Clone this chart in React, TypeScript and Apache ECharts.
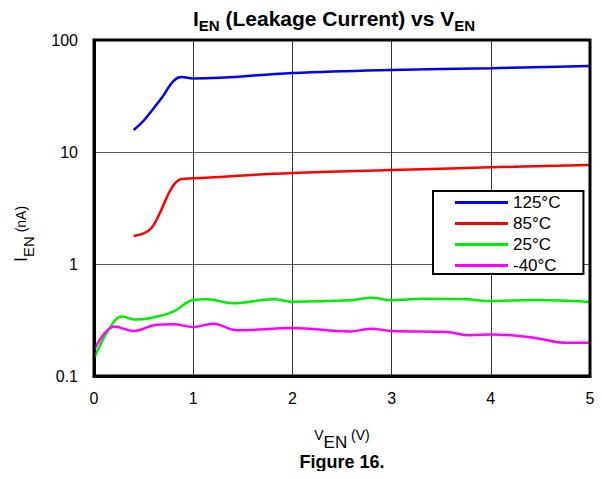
import React, { useEffect, useRef } from "react";
import * as echarts from "echarts";

const blueX = [0.4, 0.5, 0.6, 0.7, 0.8, 0.88, 1, 2, 3, 4, 5];
const blueY = [15.7, 19, 24.5, 32, 43, 46.7, 45.3, 50.7, 54, 56, 58.6];
const redX = [0.4, 0.5, 0.58, 0.665, 0.72, 0.766, 0.82, 0.88, 1, 2, 3, 4, 5];
const redY = [1.78, 1.88, 2.1, 2.87, 3.7, 4.49, 5.3, 5.75, 5.82, 6.5, 6.9, 7.3, 7.66];
const greenX = [0, 0.16, 0.28, 0.41, 0.56, 0.8, 1, 1.14, 1.4, 1.81, 2, 2.58, 2.8, 3, 3.32, 3.76, 4, 4.43, 5];
const greenY = [0.144, 0.27, 0.339, 0.32, 0.328, 0.375, 0.477, 0.484, 0.446, 0.484, 0.46, 0.474, 0.5, 0.474, 0.49, 0.484, 0.467, 0.477, 0.458];
const magX = [0, 0.21, 0.4, 0.63, 0.8, 1, 1.2, 1.44, 2, 2.58, 2.8, 3, 3.55, 3.79, 4, 4.43, 4.76, 5];
const magY = [0.17, 0.276, 0.252, 0.287, 0.29, 0.274, 0.293, 0.256, 0.268, 0.25, 0.264, 0.252, 0.247, 0.231, 0.235, 0.22, 0.198, 0.198];
const seriesNames = ["125°C", "85°C", "25°C", "-40°C"];
const seriesColors = ["#0000ff", "#ff0000", "#00ee00", "#ff00ff"];

const zip = (xs: number[], ys: number[]) => xs.map((x, i) => [x, ys[i]]);

const FONT = "'Liberation Sans', Arial, sans-serif";

export default function App() {
  const ref = useRef<HTMLDivElement>(null);
  useEffect(() => {
    if (!ref.current) return;
    const chart = echarts.init(ref.current, null, { renderer: "svg" });
    const data = [zip(blueX, blueY), zip(redX, redY), zip(greenX, greenY), zip(magX, magY)];
    chart.setOption({
      animation: false,
      backgroundColor: "#ffffff",
      textStyle: { fontFamily: FONT },
      title: {
        text: "{b|I}{s|EN}{b| (Leakage Current) vs V}{s|EN}",
        left: 329,
        textAlign: "center",
        top: 3,
        textStyle: {
          rich: {
            b: { fontFamily: FONT, fontWeight: "bold", fontSize: 21, color: "#000", lineHeight: 26, verticalAlign: "top" },
            s: { fontFamily: FONT, fontWeight: "bold", fontSize: 15, color: "#000", lineHeight: 26, padding: [10, 0, 0, 0], verticalAlign: "top" },
          },
        },
      },
      grid: { left: 94, right: 12, top: 40, bottom: 103, containLabel: false },
      legend: {
        show: true,
        orient: "vertical",
        left: 433,
        top: 191,
        padding: [3, 23, 0, 22],
        borderColor: "#000",
        borderWidth: 2,
        backgroundColor: "#fff",
        icon: "rect",
        itemWidth: 53,
        itemHeight: 3,
        itemGap: 4,
        data: seriesNames,
        textStyle: { fontFamily: FONT, fontSize: 17, color: "#000", lineHeight: 15 },
      },
      xAxis: {
        type: "value",
        min: 0,
        max: 5,
        interval: 1,
        name: "{v|V}{e|EN}{v| (V)}",
        nameLocation: "middle",
        nameGap: 52,
        nameTextStyle: {
          rich: {
            v: { fontFamily: FONT, fontSize: 14, color: "#000", lineHeight: 14, verticalAlign: "top" },
            e: { fontFamily: FONT, fontSize: 17, color: "#000", lineHeight: 14, padding: [6, 0, 0, 0], verticalAlign: "top" },
          },
        },
        axisLine: { show: true, onZero: false, lineStyle: { color: "#000", width: 3 } },
        axisTick: { show: false },
        axisLabel: { fontFamily: FONT, fontSize: 16, color: "#000", margin: 14 },
        splitLine: { show: true, lineStyle: { color: "#333", width: 1 } },
      },
      yAxis: {
        type: "log",
        logBase: 10,
        min: 0.1,
        max: 100,
        axisLine: { show: true, lineStyle: { color: "#000", width: 3 } },
        axisTick: { show: false },
        minorTick: { show: false },
        axisLabel: { fontFamily: FONT, fontSize: 16, color: "#000", margin: 16, formatter: (v: number) => String(v) },
        splitLine: { show: true, lineStyle: { color: "#555", width: 1 } },
      },
      graphic: [
        {
          type: "rect",
          shape: { x: 94, y: 40, width: 496, height: 336 },
          style: { fill: "none", stroke: "#000", lineWidth: 3 },
          silent: true,
          z: 10,
        },
        {
          type: "text",
          x: 24,
          y: 234,
          rotation: Math.PI / 2,
          style: {
            text: "{v|I}{e|EN}{s| (nA)}",
            textAlign: "center",
            textVerticalAlign: "middle",
            rich: {
              v: { fontFamily: FONT, fontSize: 18, fill: "#000", lineHeight: 24, verticalAlign: "top" },
              e: { fontFamily: FONT, fontSize: 15, fill: "#000", lineHeight: 24, padding: [9, 0, 0, 0], verticalAlign: "top" },
              s: { fontFamily: FONT, fontSize: 14, fill: "#000", lineHeight: 24, padding: [2, 0, 0, 0], verticalAlign: "top" },
            },
          },
        },
        {
          type: "text",
          x: 342,
          y: 462,
          style: { text: "Figure 16.", fontFamily: FONT, fontWeight: "bold", fontSize: 18, fill: "#000", textAlign: "center", textVerticalAlign: "middle" },
        },
      ],
      series: data.map((d, i) => ({
        name: seriesNames[i],
        type: "line",
        data: d,
        smooth: 0.4,
        symbol: "none",
        lineStyle: { color: seriesColors[i], width: 2.5 },
        itemStyle: { color: seriesColors[i] },
        z: 5,
      })),
    });
    return () => chart.dispose();
  }, []);
  return <div ref={ref} style={{ width: 602, height: 479, margin: -8 }} />;
}
